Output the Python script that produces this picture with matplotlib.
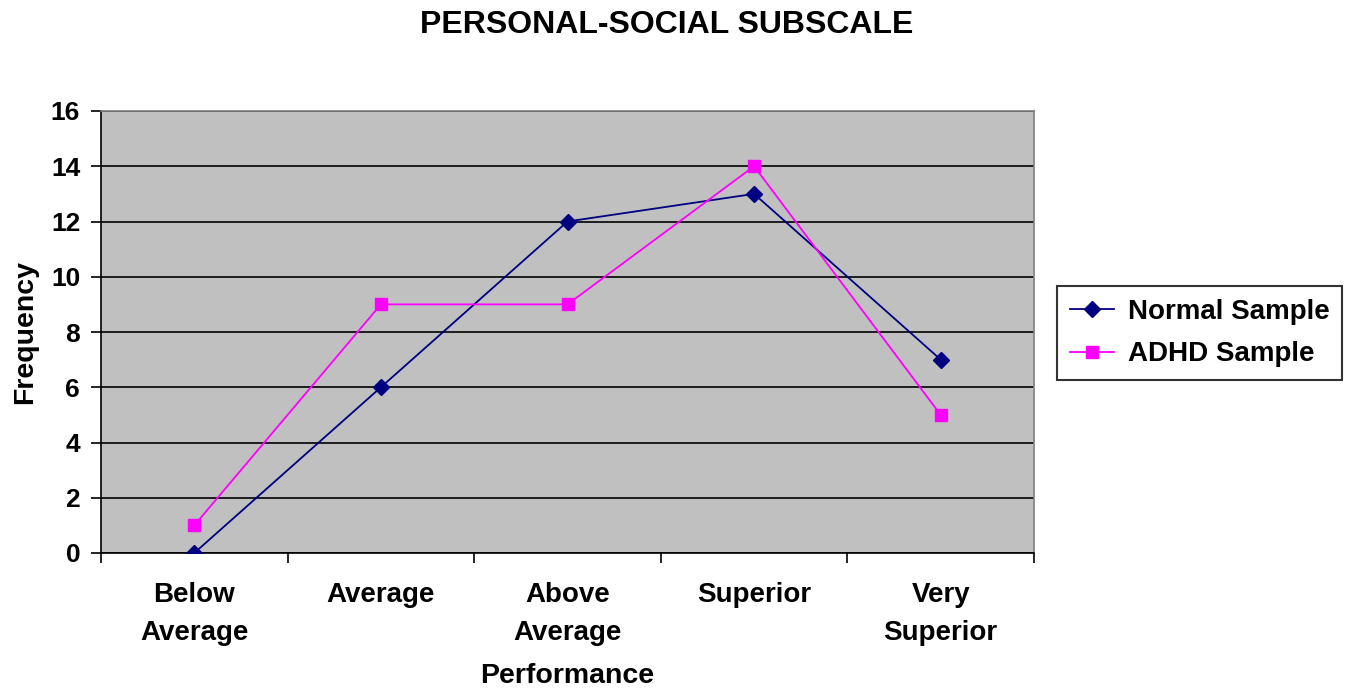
import numpy as np
import matplotlib
matplotlib.use("Agg")
import matplotlib.pyplot as plt

categories = ["Below\nAverage", "Average", "Above\nAverage", "Superior", "Very\nSuperior"]
normal_sample = [0, 6, 12, 13, 7]
adhd_sample = [1, 9, 9, 14, 5]

plt.rcParams['font.family'] = ['Liberation Sans', 'DejaVu Sans']
plt.rcParams['font.weight'] = 'bold'

fig = plt.figure(figsize=(13.52, 6.92), dpi=100)
ax = fig.add_axes([101 / 1352, 1 - 553 / 692, 933 / 1352, 442 / 692])
ax.set_facecolor('#c0c0c0')

x = np.arange(len(categories))
ax.plot(x, normal_sample, color='#000080', marker='D', markersize=8,
        linewidth=1.3, label='Normal Sample', zorder=3)
ax.plot(x, adhd_sample, color='#ff00ff', marker='s', markersize=9,
        linewidth=1.3, label='ADHD Sample', zorder=3)

ax.set_xlim(-0.5, len(categories) - 0.5)
ax.set_ylim(0, 16)
ax.set_yticks(range(0, 17, 2))
ax.yaxis.grid(True, color='black', linewidth=1.2)
ax.set_axisbelow(True)

ax.set_xticks(x)
ax.set_xticklabels(categories, fontsize=20, fontweight='bold', linespacing=1.6)
ax.set_xticks(np.arange(-0.5, len(categories), 1), minor=True)
ax.tick_params(axis='x', which='major', length=0, pad=21)
ax.tick_params(axis='x', which='minor', length=7, width=1.2, direction='out')
ax.tick_params(axis='y', length=7, width=1.2, direction='out', labelsize=19, pad=8)
for lbl in ax.get_yticklabels():
    lbl.set_fontweight('bold')

for side in ['left', 'bottom']:
    ax.spines[side].set_color('black')
    ax.spines[side].set_linewidth(1.2)
for side in ['top', 'right']:
    ax.spines[side].set_color('#808080')
    ax.spines[side].set_linewidth(1.2)

ax.set_xlabel('Performance', fontsize=20.5, fontweight='bold', labelpad=12)
ax.set_ylabel('Frequency', fontsize=20.5, fontweight='bold', labelpad=9)
fig.text(0.493, 1 - 25 / 692, 'PERSONAL-SOCIAL SUBSCALE',
         fontsize=23, fontweight='bold', ha='center', va='center')

leg = fig.legend(loc='center left', bbox_to_anchor=(1057 / 1352, 1 - 333 / 692),
                 fontsize=20, frameon=True, fancybox=False, edgecolor='black',
                 handlelength=1.6, borderpad=0.45, labelspacing=0.6,
                 handletextpad=0.5, borderaxespad=0)
leg.get_frame().set_linewidth(1.5)
for t in leg.get_texts():
    t.set_fontweight('bold')

fig.savefig('out.png', dpi=100)
